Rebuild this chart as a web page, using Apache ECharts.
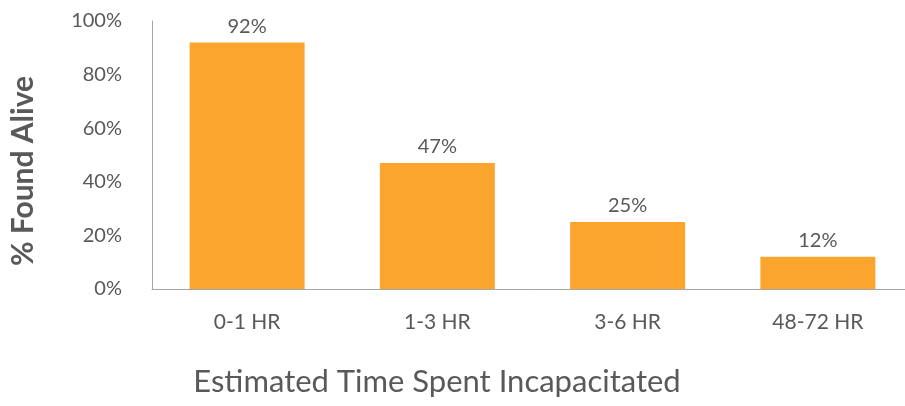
<!DOCTYPE html>
<html><head><meta charset="utf-8">
<script src="https://cdn.jsdelivr.net/npm/echarts@6/dist/echarts.min.js"></script>
<style>html,body{margin:0;padding:0;background:#fff;}#c{width:905px;height:406px;}</style>
</head><body><div id="c"></div>
<script>
const categories = ['0-1 HR', '1-3 HR', '3-6 HR', '48-72 HR'];
const values = [92, 47, 25, 12];
const yTicks = [0, 20, 40, 60, 80, 100];
const yTitle = '% Found Alive';
const xTitle = 'Estimated Time Spent Incapacitated';

const chart = echarts.init(document.getElementById('c'));
const font = 'Lato, "Open Sans", sans-serif';
chart.setOption({
  animation: false,
  grid: { left: 152, right: -8, top: 21, bottom: 117, containLabel: false, outerBoundsMode: 'none' },
  xAxis: {
    type: 'category', data: categories,
    axisLine: { show: true, lineStyle: { color: '#a6a6a6', width: 1 } },
    axisTick: { show: false },
    axisLabel: { color: '#595959', fontSize: 21, fontFamily: font, margin: 23 }
  },
  yAxis: {
    type: 'value', min: yTicks[0], max: yTicks[yTicks.length - 1], interval: 20,
    axisLine: { show: true, lineStyle: { color: '#a6a6a6', width: 1 } },
    axisTick: { show: false },
    splitLine: { show: false },
    axisLabel: { color: '#595959', fontSize: 20, fontFamily: font, margin: 30, formatter: '{value}%' }
  },
  graphic: [
    { type: 'text', x: 23, y: 171, rotation: Math.PI / 2,
      style: { text: yTitle, fill: '#595959', font: 'bold 30px ' + font, textAlign: 'center', textVerticalAlign: 'middle' } },
    { type: 'text', x: 437, y: 382,
      style: { text: xTitle, fill: '#595959', font: '31px ' + font, textAlign: 'center', textVerticalAlign: 'middle' } }
  ],
  series: [{
    type: 'bar', data: values, barWidth: 115,
    itemStyle: { color: '#FCA52E' },
    label: { show: true, position: 'top', distance: 6, formatter: '{c}%', color: '#595959', fontSize: 20, fontFamily: font }
  }]
});
</script></body></html>
